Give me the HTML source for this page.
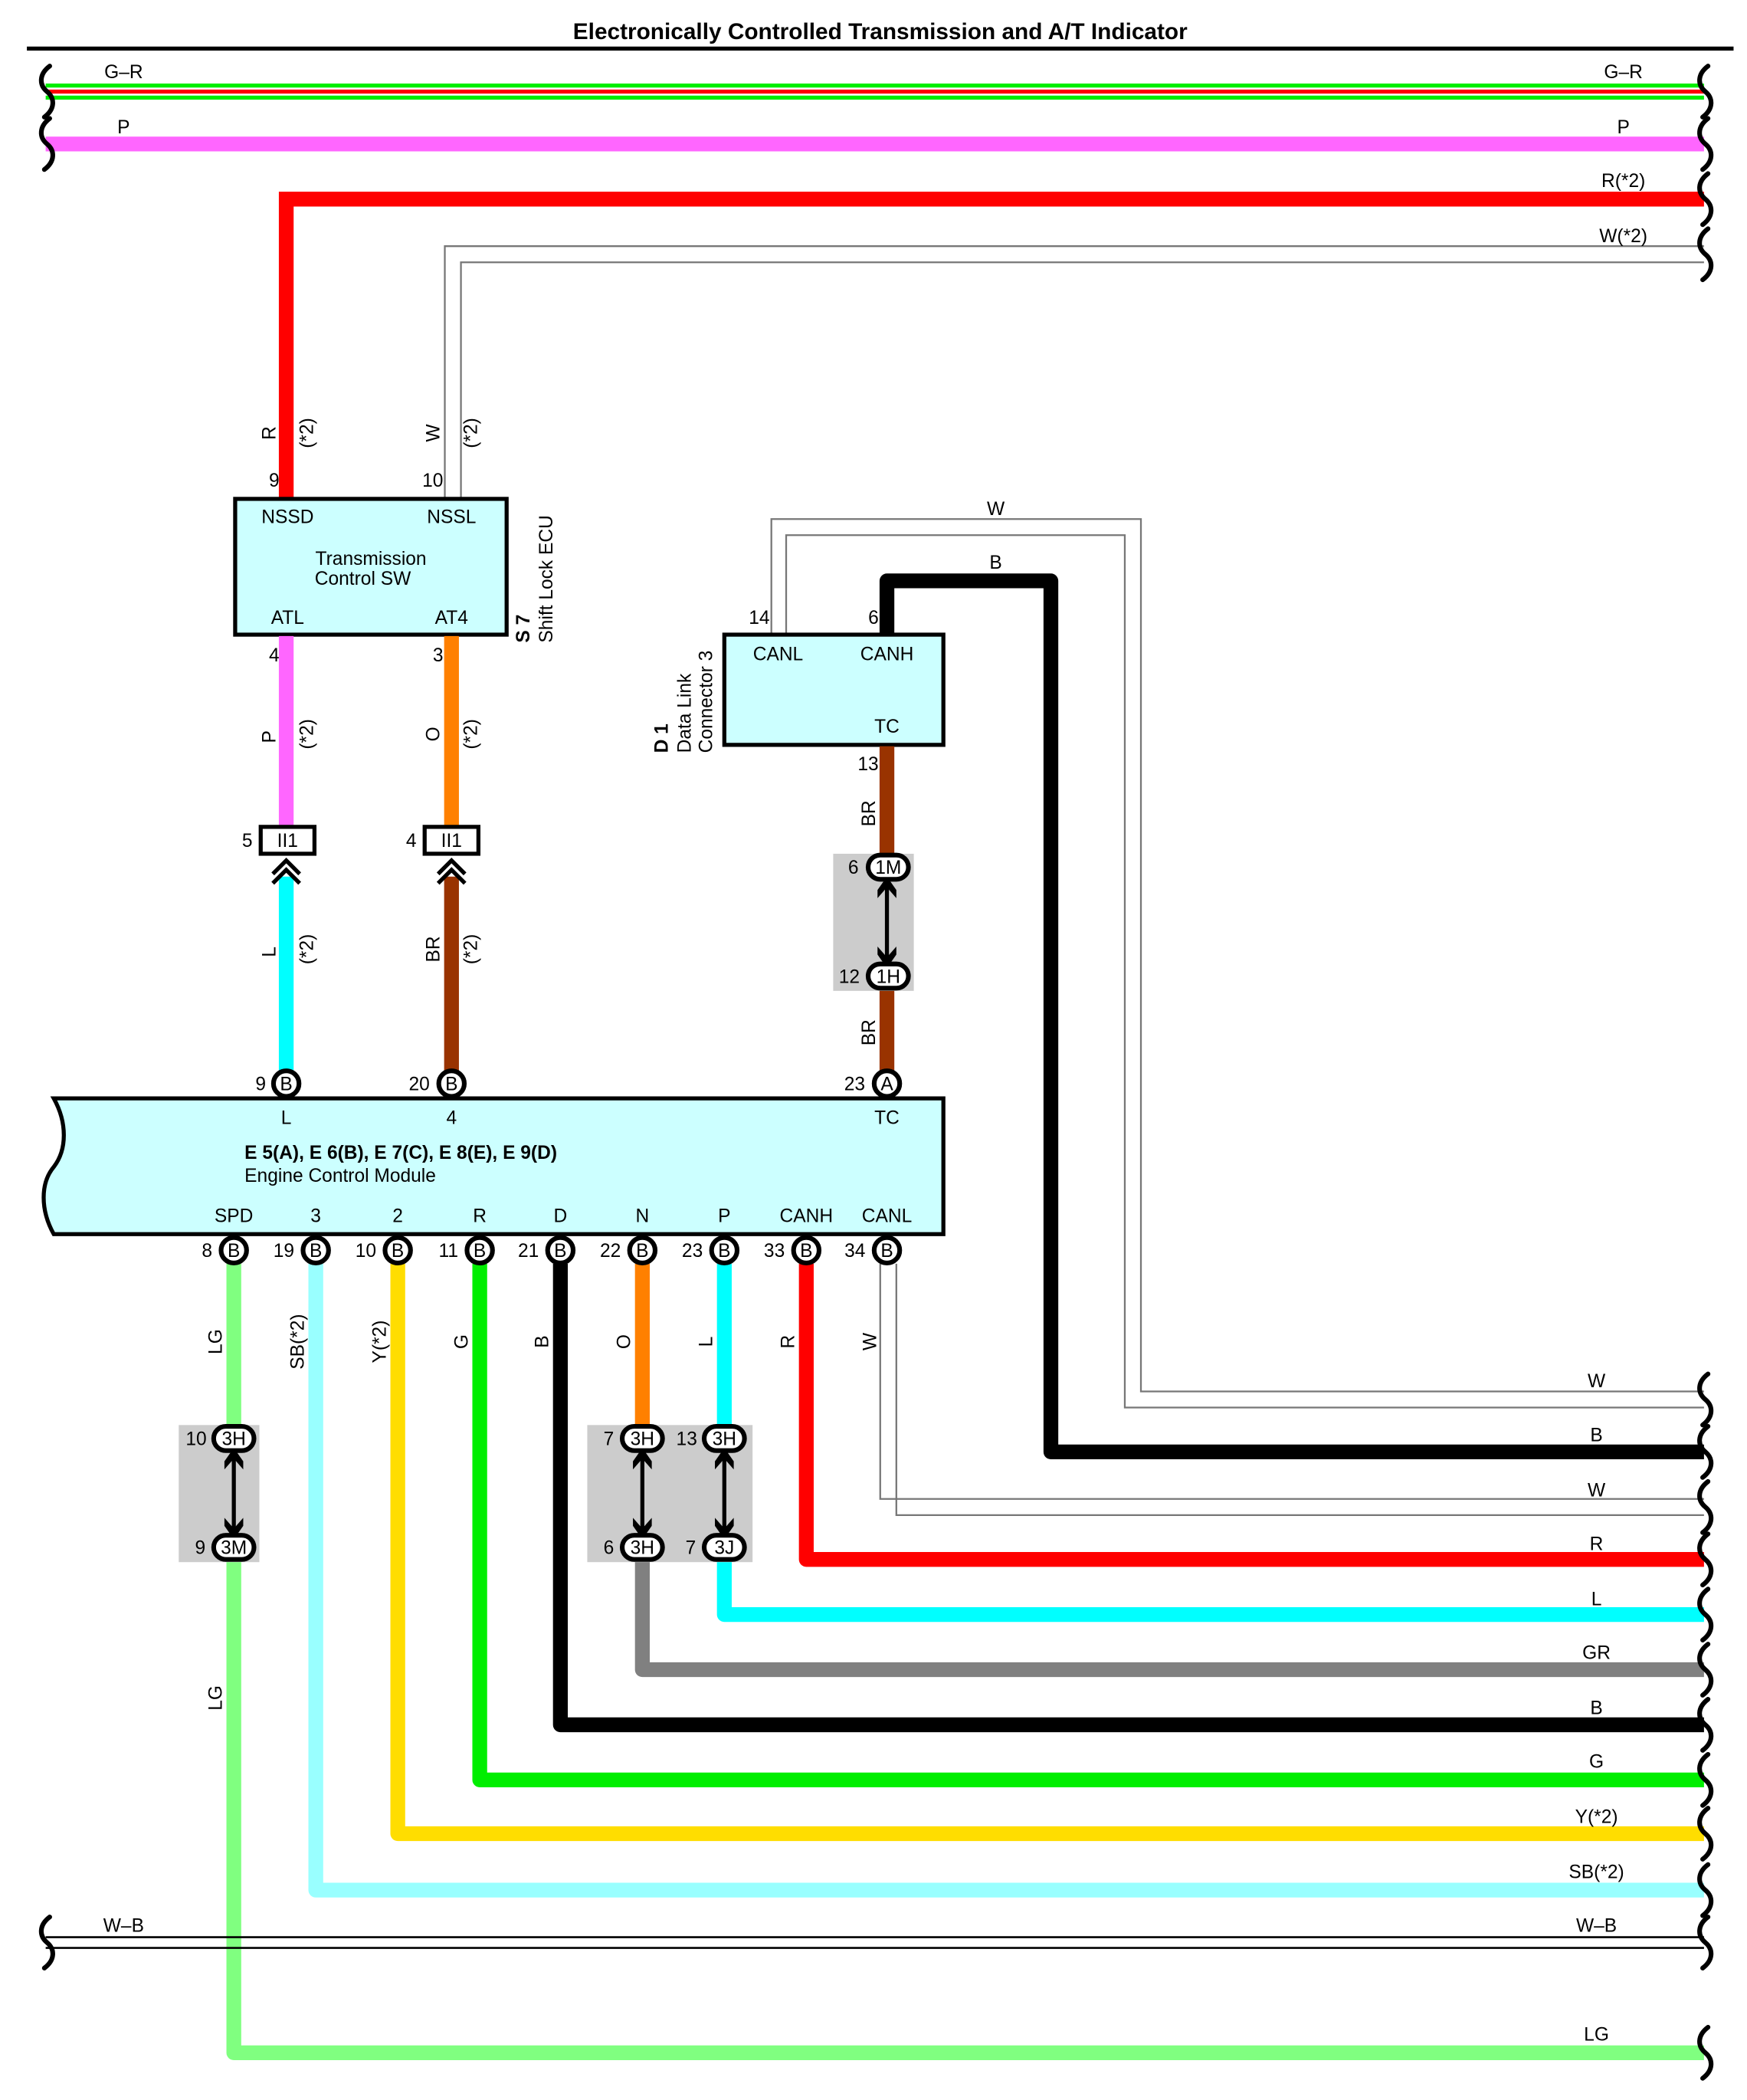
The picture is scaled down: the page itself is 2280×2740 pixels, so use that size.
<!DOCTYPE html>
<html><head><meta charset="utf-8"><style>
html,body{margin:0;padding:0;background:#fff;}
svg{display:block;}
text{font-family:"Liberation Sans",Arial,sans-serif;font-size:14px;fill:#000;}
.c{text-anchor:middle;}
.r{text-anchor:end;}
.b{font-weight:bold;}
</style></head><body>
<svg width="2280" height="2740" viewBox="0 0 1300 1562" xmlns="http://www.w3.org/2000/svg">
<defs>
<path id="sq" d="M3,-19 C-5,-13 -5,-5 1,0 C7,5 7,13 -1,19" fill="none" stroke="#000" stroke-width="3.5" stroke-linecap="round"/>
<g id="dar"><line x1="0" y1="-28" x2="0" y2="28" stroke="#000" stroke-width="3"/>
<path d="M0,-34 L7,-24 L7,-18 L0,-26 L-7,-18 L-7,-24Z" fill="#000"/>
<path d="M0,34 L7,24 L7,18 L0,26 L-7,18 L-7,24Z" fill="#000"/></g>
</defs>
<rect width="1300" height="1562" fill="#fff"/>
<text x="655" y="29" class="c b" style="font-size:17px">Electronically Controlled Transmission and A/T Indicator</text>
<line x1="20" y1="36" x2="1290" y2="36" stroke="#000" stroke-width="3"/>

<!-- G-R -->
<line x1="34" y1="63.5" x2="1268" y2="63.5" stroke="#00ee00" stroke-width="3"/>
<line x1="34" y1="68" x2="1268" y2="68" stroke="#ff0000" stroke-width="3"/>
<line x1="34" y1="72.5" x2="1268" y2="72.5" stroke="#00ee00" stroke-width="3"/>
<text x="92" y="58" class="c">G–R</text><text x="1208" y="58" class="c">G–R</text>
<!-- P -->
<line x1="34" y1="107" x2="1268" y2="107" stroke="#ff66ff" stroke-width="11"/>
<text x="92" y="99" class="c">P</text><text x="1208" y="99" class="c">P</text>
<!-- R(*2) -->
<polyline points="213,370 213,148 1268,148" fill="none" stroke="#ff0000" stroke-width="11"/>
<text x="1208" y="139" class="c">R(*2)</text>
<!-- W(*2) -->
<polyline points="331,370 331,183 1268,183" fill="none" stroke="#777" stroke-width="1.3"/>
<polyline points="343,370 343,195 1268,195" fill="none" stroke="#777" stroke-width="1.3"/>
<text x="1208" y="180" class="c">W(*2)</text>

<!-- squiggles -->
<use href="#sq" x="34" y="68"/><use href="#sq" x="34" y="107"/>
<use href="#sq" x="1268" y="68"/><use href="#sq" x="1268" y="107"/>
<use href="#sq" x="1268" y="148"/><use href="#sq" x="1268" y="189"/>

<!-- wire labels top -->
<text transform="translate(205,322) rotate(-90)" class="c">R</text>
<text transform="translate(233,322) rotate(-90)" class="c">(*2)</text>
<text transform="translate(327,322) rotate(-90)" class="c">W</text>
<text transform="translate(355,322) rotate(-90)" class="c">(*2)</text>
<text x="204" y="362" class="c">9</text><text x="322" y="362" class="c">10</text>

<!-- Transmission Control SW -->
<rect x="175" y="371" width="202" height="101" fill="#ccffff" stroke="#000" stroke-width="3"/>
<text x="214" y="389" class="c">NSSD</text><text x="336" y="389" class="c">NSSL</text>
<text x="276" y="420" class="c">Transmission</text><text x="270" y="435" class="c">Control SW</text>
<text x="214" y="464" class="c">ATL</text><text x="336" y="464" class="c">AT4</text>
<text transform="translate(394,478) rotate(-90)" class="b">S 7</text>
<text transform="translate(411,478) rotate(-90)">Shift Lock ECU</text>
<text x="204" y="492" class="c">4</text><text x="326" y="492" class="c">3</text>

<line x1="213" y1="473" x2="213" y2="614" stroke="#ff66ff" stroke-width="11"/>
<line x1="336" y1="473" x2="336" y2="614" stroke="#ff8000" stroke-width="11"/>
<text transform="translate(205,548) rotate(-90)" class="c">P</text>
<text transform="translate(233,546) rotate(-90)" class="c">(*2)</text>
<text transform="translate(327,546) rotate(-90)" class="c">O</text>
<text transform="translate(355,546) rotate(-90)" class="c">(*2)</text>

<!-- II1 connectors -->
<rect x="194" y="615" width="40" height="20" fill="#fff" stroke="#000" stroke-width="3"/>
<text x="214" y="630" class="c">II1</text><text x="184" y="630" class="c">5</text>
<rect x="316" y="615" width="40" height="20" fill="#fff" stroke="#000" stroke-width="3"/>
<text x="336" y="630" class="c">II1</text><text x="306" y="630" class="c">4</text>
<line x1="213" y1="652" x2="213" y2="797" stroke="#00ffff" stroke-width="11"/>
<line x1="336" y1="652" x2="336" y2="797" stroke="#993300" stroke-width="11"/>
<polyline points="203,650 213,640 223,650" fill="none" stroke="#000" stroke-width="3"/>
<polyline points="203,657 213,647 223,657" fill="none" stroke="#000" stroke-width="3"/>
<polyline points="326,650 336,640 346,650" fill="none" stroke="#000" stroke-width="3"/>
<polyline points="326,657 336,647 346,657" fill="none" stroke="#000" stroke-width="3"/>
<text transform="translate(205,708) rotate(-90)" class="c">L</text>
<text transform="translate(233,706) rotate(-90)" class="c">(*2)</text>
<text transform="translate(327,706) rotate(-90)" class="c">BR</text>
<text transform="translate(355,706) rotate(-90)" class="c">(*2)</text>

<!-- D1 wires -->
<polyline points="574,472 574,386 849,386 849,1035 1268,1035" fill="none" stroke="#777" stroke-width="1.3"/>
<polyline points="585,472 585,398 837,398 837,1047 1268,1047" fill="none" stroke="#777" stroke-width="1.3"/>
<text x="741" y="383" class="c">W</text>
<text x="1188" y="1032" class="c">W</text>
<polyline points="660,472 660,432 782,432 782,1080 1268,1080" fill="none" stroke="#000" stroke-width="11" stroke-linejoin="round"/>
<text x="741" y="423" class="c">B</text>
<text x="1188" y="1072" class="c">B</text>
<use href="#sq" x="1268" y="1041"/><use href="#sq" x="1268" y="1080"/>

<rect x="539" y="472" width="163" height="82" fill="#ccffff" stroke="#000" stroke-width="3"/>
<text x="579" y="491" class="c">CANL</text><text x="660" y="491" class="c">CANH</text>
<text x="660" y="545" class="c">TC</text>
<text x="565" y="464" class="c">14</text><text x="650" y="464" class="c">6</text>
<text transform="translate(497,560) rotate(-90)" class="b">D 1</text>
<text transform="translate(514,560) rotate(-90)">Data Link</text>
<text transform="translate(530,560) rotate(-90)">Connector 3</text>
<text x="646" y="573" class="c">13</text>

<line x1="660" y1="555" x2="660" y2="797" stroke="#993300" stroke-width="11"/>
<text transform="translate(651,605) rotate(-90)" class="c">BR</text>
<text transform="translate(651,768) rotate(-90)" class="c">BR</text>
<rect x="620" y="635" width="60" height="102" fill="#cccccc"/>
<use href="#dar" x="660" y="686"/>
<rect x="646" y="636" width="30" height="18" rx="9" fill="#fff" stroke="#000" stroke-width="3.5"/>
<text x="661" y="650" class="c">1M</text><text x="635" y="650" class="c">6</text>
<rect x="646" y="717" width="30" height="18" rx="9" fill="#fff" stroke="#000" stroke-width="3.5"/>
<text x="661" y="731" class="c">1H</text><text x="632" y="731" class="c">12</text>

<!-- ECM -->
<path d="M40,817 L702,817 L702,918 L40,918 C30,900 30,880 40,868 C50,855 50,835 40,817Z" fill="#ccffff" stroke="#000" stroke-width="3"/>
<g fill="#fff" stroke="#000" stroke-width="3.5">
<circle cx="213" cy="806" r="9.5"/><circle cx="336" cy="806" r="9.5"/><circle cx="660" cy="806" r="9.5"/>
</g>
<text x="213" y="811" class="c">B</text><text x="336" y="811" class="c">B</text><text x="660" y="811" class="c">A</text>
<text x="194" y="811" class="c">9</text><text x="312" y="811" class="c">20</text><text x="636" y="811" class="c">23</text>
<text x="213" y="836" class="c">L</text><text x="336" y="836" class="c">4</text><text x="660" y="836" class="c">TC</text>
<text x="182" y="862" class="b">E 5(A), E 6(B), E 7(C), E 8(E), E 9(D)</text>
<text x="182" y="879">Engine Control Module</text>
<text x="174" y="909" class="c">SPD</text><text x="235" y="909" class="c">3</text><text x="296" y="909" class="c">2</text>
<text x="357" y="909" class="c">R</text><text x="417" y="909" class="c">D</text><text x="478" y="909" class="c">N</text>
<text x="539" y="909" class="c">P</text><text x="600" y="909" class="c">CANH</text><text x="660" y="909" class="c">CANL</text>

<!-- bottom wires -->
<polyline points="655,940 655,1115 1268,1115" fill="none" stroke="#777" stroke-width="1.3"/>
<polyline points="667,940 667,1127 1268,1127" fill="none" stroke="#777" stroke-width="1.3"/>
<g fill="none" stroke-width="11" stroke-linejoin="round">
<polyline points="174,940 174,1527 1268,1527" stroke="#80ff80"/>
<polyline points="235,940 235,1406 1268,1406" stroke="#99ffff"/>
<polyline points="296,940 296,1364 1268,1364" stroke="#ffdd00"/>
<polyline points="357,940 357,1324 1268,1324" stroke="#00ee00"/>
<polyline points="417,940 417,1283 1268,1283" stroke="#000"/>
<polyline points="478,940 478,1060" stroke="#ff8000"/>
<polyline points="478,1160 478,1242 1268,1242" stroke="#808080"/>
<polyline points="539,940 539,1201 1268,1201" stroke="#00ffff"/>
<polyline points="600,940 600,1160 1268,1160" stroke="#ff0000"/>
</g>
<line x1="34" y1="1441" x2="1268" y2="1441" stroke="#000" stroke-width="1.5"/>
<line x1="34" y1="1449" x2="1268" y2="1449" stroke="#000" stroke-width="1.5"/>
<use href="#sq" x="34" y="1445"/>
<use href="#sq" x="1268" y="1121"/><use href="#sq" x="1268" y="1160"/><use href="#sq" x="1268" y="1201"/>
<use href="#sq" x="1268" y="1242"/><use href="#sq" x="1268" y="1283"/><use href="#sq" x="1268" y="1324"/>
<use href="#sq" x="1268" y="1364"/><use href="#sq" x="1268" y="1406"/><use href="#sq" x="1268" y="1445"/>
<use href="#sq" x="1268" y="1527"/>

<text x="1188" y="1113" class="c">W</text><text x="1188" y="1153" class="c">R</text>
<text x="1188" y="1194" class="c">L</text><text x="1188" y="1234" class="c">GR</text>
<text x="1188" y="1275" class="c">B</text><text x="1188" y="1315" class="c">G</text>
<text x="1188" y="1356" class="c">Y(*2)</text><text x="1188" y="1397" class="c">SB(*2)</text>
<text x="92" y="1437" class="c">W–B</text><text x="1188" y="1437" class="c">W–B</text>
<text x="1188" y="1518" class="c">LG</text>

<!-- bottom pins -->
<g fill="#fff" stroke="#000" stroke-width="3.5">
<circle cx="174" cy="930" r="9.5"/><circle cx="235" cy="930" r="9.5"/><circle cx="296" cy="930" r="9.5"/>
<circle cx="357" cy="930" r="9.5"/><circle cx="417" cy="930" r="9.5"/><circle cx="478" cy="930" r="9.5"/>
<circle cx="539" cy="930" r="9.5"/><circle cx="600" cy="930" r="9.5"/><circle cx="660" cy="930" r="9.5"/>
</g>
<g class="c">
<text x="174" y="935" class="c">B</text><text x="235" y="935" class="c">B</text><text x="296" y="935" class="c">B</text>
<text x="357" y="935" class="c">B</text><text x="417" y="935" class="c">B</text><text x="478" y="935" class="c">B</text>
<text x="539" y="935" class="c">B</text><text x="600" y="935" class="c">B</text><text x="660" y="935" class="c">B</text>
</g>
<text x="158" y="935" class="r">8</text><text x="219" y="935" class="r">19</text><text x="280" y="935" class="r">10</text>
<text x="341" y="935" class="r">11</text><text x="401" y="935" class="r">21</text><text x="462" y="935" class="r">22</text>
<text x="523" y="935" class="r">23</text><text x="584" y="935" class="r">33</text><text x="644" y="935" class="r">34</text>

<text transform="translate(165,998) rotate(-90)" class="c">LG</text>
<text transform="translate(226,998) rotate(-90)" class="c">SB(*2)</text>
<text transform="translate(287,998) rotate(-90)" class="c">Y(*2)</text>
<text transform="translate(348,998) rotate(-90)" class="c">G</text>
<text transform="translate(408,998) rotate(-90)" class="c">B</text>
<text transform="translate(469,998) rotate(-90)" class="c">O</text>
<text transform="translate(530,998) rotate(-90)" class="c">L</text>
<text transform="translate(591,998) rotate(-90)" class="c">R</text>
<text transform="translate(652,998) rotate(-90)" class="c">W</text>
<text transform="translate(165,1263) rotate(-90)" class="c">LG</text>

<!-- 3H/3M -->
<rect x="133" y="1060" width="60" height="102" fill="#cccccc"/>
<use href="#dar" x="174" y="1111"/>
<rect x="159" y="1061" width="30" height="18" rx="9" fill="#fff" stroke="#000" stroke-width="3.5"/>
<text x="174" y="1075" class="c">3H</text><text x="146" y="1075" class="c">10</text>
<rect x="159" y="1142" width="30" height="18" rx="9" fill="#fff" stroke="#000" stroke-width="3.5"/>
<text x="174" y="1156" class="c">3M</text><text x="149" y="1156" class="c">9</text>

<rect x="437" y="1060" width="123" height="102" fill="#cccccc"/>
<use href="#dar" x="478" y="1111"/><use href="#dar" x="539" y="1111"/>
<rect x="463" y="1061" width="30" height="18" rx="9" fill="#fff" stroke="#000" stroke-width="3.5"/>
<text x="478" y="1075" class="c">3H</text><text x="453" y="1075" class="c">7</text>
<rect x="524" y="1061" width="30" height="18" rx="9" fill="#fff" stroke="#000" stroke-width="3.5"/>
<text x="539" y="1075" class="c">3H</text><text x="511" y="1075" class="c">13</text>
<rect x="463" y="1142" width="30" height="18" rx="9" fill="#fff" stroke="#000" stroke-width="3.5"/>
<text x="478" y="1156" class="c">3H</text><text x="453" y="1156" class="c">6</text>
<rect x="524" y="1142" width="30" height="18" rx="9" fill="#fff" stroke="#000" stroke-width="3.5"/>
<text x="539" y="1156" class="c">3J</text><text x="514" y="1156" class="c">7</text>
</svg>
</body></html>
